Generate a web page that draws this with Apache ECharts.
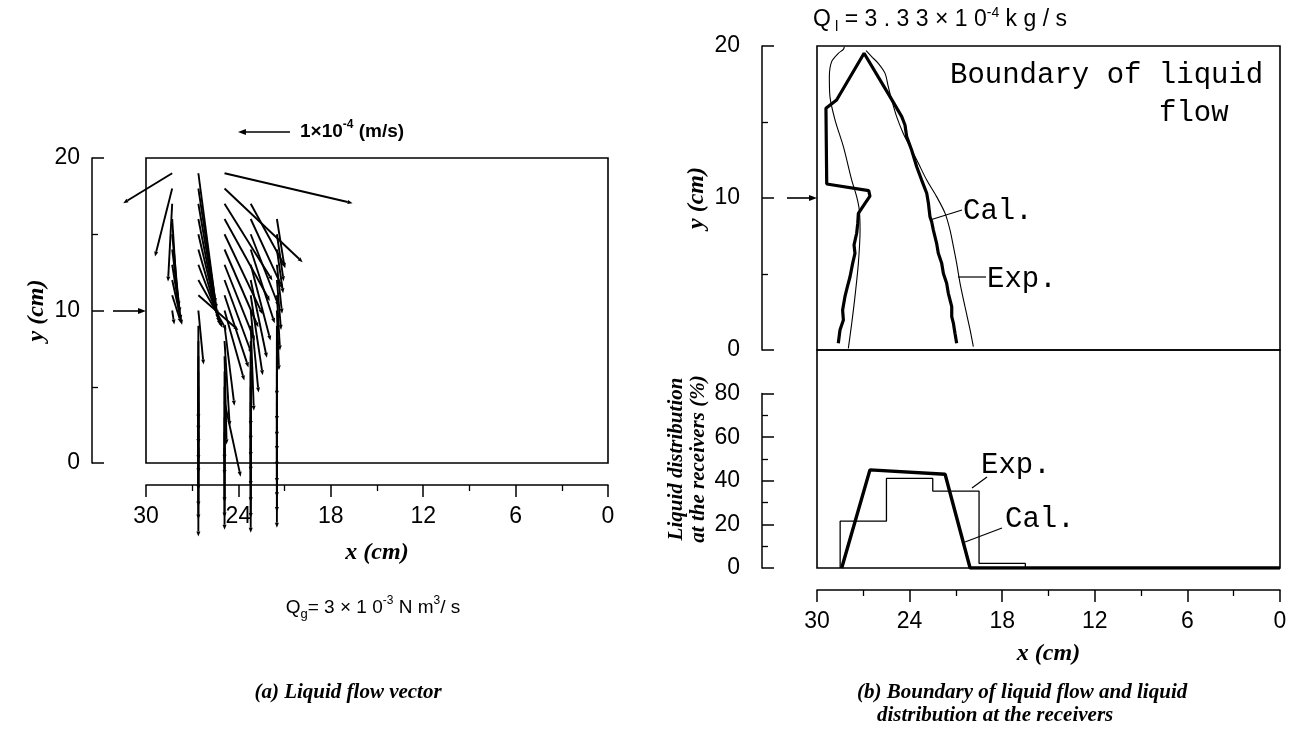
<!DOCTYPE html>
<html>
<head>
<meta charset="utf-8">
<script src="https://cdn.jsdelivr.net/npm/echarts@6/dist/echarts.min.js"></script>
<style>
html,body{margin:0;padding:0;background:#fff;}
#chart{width:1298px;height:731px;}
</style>
</head>
<body>
<div id="chart"></div>
<script>
// ---------------- DATA ----------------
// (a) Liquid flow vectors: grid columns (x, cm) and rows (y, cm)
// velocity components in units of 1e-4 m/s (u along +x of the axis, v along +y)
const col0X = 28.3;
const col0Y = [19,18,17,16,15,14,13,12,11,10];
const col0U = [0.94,0.33,0.08,-0.10,-0.13,-0.15,-0.17,-0.19,-0.17,-0.04];
const col0V = [-0.58,-1.32,-1.51,-1.55,-1.40,-1.22,-1.07,-0.87,-0.54,-0.27];

const col1X = 26.6;
const col1Y = [19,18,17,16,15,14,13,12,11,10,9,8,7,6,5,4,3,2,1];
const col1U = [-0.33,-0.35,-0.37,-0.38,-0.40,-0.42,-0.46,-0.54,-0.77,-0.10,0,0,0,0,0,0,0,0,0];
const col1V = [-2.52,-2.34,-2.17,-1.94,-1.71,-1.47,-1.22,-0.97,-0.68,-1.05,-1.82,-1.74,-1.70,-1.72,-1.68,-1.71,-1.73,-1.69,-1.72];

const col2X = 24.9;
const col2Y = [19,18,17,16,15,14,13,12,11,10,9,8,7,6,5,4,3,2,1];
const col2U = [-2.46,-1.50,-0.92,-0.87,-0.73,-0.65,-0.58,-0.52,-0.46,-0.38,-0.19,-0.10,-0.04,0,0,-0.31,0,0,0];
const col2V = [-0.58,-1.43,-1.49,-1.59,-1.55,-1.51,-1.47,-1.43,-1.40,-1.36,-1.55,-1.65,-1.71,-1.71,-1.71,-1.45,-1.65,-1.65,-1.59];

const col3X = 23.2;
const col3Y = [17,16,15,14,13,12,11,10,9,8,7,6,5,4,3,2,1];
const col3U = [-0.67,-0.62,-0.54,-0.46,-0.38,-0.31,-0.23,-0.15,-0.06,0,0,0,0,0,0,0,0];
const col3V = [-1.24,-1.36,-1.40,-1.43,-1.47,-1.51,-1.55,-1.59,-1.65,-1.65,-1.64,-1.66,-1.65,-1.63,-1.65,-1.66,-1.65];

const col4X = 21.5;
const col4Y = [16,15,14,13,12,11,10,9,8,7,6,5,4,3,2,1];
const col4U = [-0.15,-0.13,-0.12,-0.10,-0.08,-0.06,-0.04,0,0,0,0,0,0,0,0,0];
const col4V = [-0.95,-0.91,-0.85,-0.95,-0.97,-1.07,-1.16,-1.36,-1.55,-1.56,-1.54,-1.55,-1.57,-1.55,-1.54,-1.55];

// (b) Boundary of liquid flow, [x cm, y cm]
const calBoundary = [[28.62,0.44],[28.51,1.32],[28.29,1.97],[28.34,2.63],[28.19,3.51],[28.03,4.17],[27.86,4.82],[27.69,5.70],[27.54,6.36],[27.60,6.91],[27.43,7.68],[27.36,8.33],[27.32,8.99],[26.89,9.65],[26.57,10.13],[26.65,10.48],[29.37,10.92],[29.42,15.90],[28.73,16.45],[26.95,19.52],[25.27,16.67],[24.51,15.35],[24.30,14.80],[24.19,14.04],[23.87,13.16],[23.54,12.06],[23.22,11.18],[22.89,10.31],[22.78,9.65],[22.68,8.77],[22.57,8.44],[22.46,7.89],[22.25,7.02],[22.14,6.36],[21.92,5.70],[21.81,5.04],[21.60,4.39],[21.49,3.73],[21.27,2.85],[21.27,2.19],[21.16,1.75],[21.06,1.10],[20.95,0.44]];
const expBoundaryLeft = [[27.97,0.11],[27.75,1.75],[27.54,3.51],[27.32,5.70],[27.21,7.89],[27.26,9.21],[27.43,10.09],[27.75,11.18],[28.29,13.38],[28.83,15.13],[29.16,16.67],[29.20,17.98],[29.05,18.97],[28.62,19.52],[28.29,19.78],[28.23,19.96]];
const expBoundaryRight = [[26.82,19.69],[26.46,19.30],[26.03,18.86],[25.59,18.20],[25.38,17.32],[25.16,16.45],[24.84,15.35],[24.41,14.25],[23.97,13.38],[23.43,12.28],[22.89,11.18],[22.25,10.09],[21.70,8.99],[21.38,7.89],[21.16,6.80],[20.95,5.70],[20.73,4.39],[20.41,2.85],[20.08,1.32],[19.87,0.22]];

// (b) Liquid distribution at the receivers (%)
const calDistX = [28.40, 26.57, 21.70, 20.08, 0];
const calDistY = [0, 45.0, 43.0, 0, 0];
const receiverEdges = [28.5, 25.5, 22.5, 19.5, 16.5];
const expDist = [21.5, 41.1, 35.3, 2.1];

// tick labels / axis ranges
const xTicks = [30, 24, 18, 12, 6, 0];
const yBoundaryTicks = [0, 10, 20];
const yDistTicks = [0, 20, 40, 60, 80];

// ---------------- BUILD ----------------
const VEC_SCALE = 3.38; // cm of plot per 1e-4 m/s
const vectorData = [];
[[col0X,col0Y,col0U,col0V],[col1X,col1Y,col1U,col1V],[col2X,col2Y,col2U,col2V],[col3X,col3Y,col3U,col3V],[col4X,col4Y,col4U,col4V]]
  .forEach(([cx, ys, us, vs]) => ys.forEach((y, i) => vectorData.push([cx, y, us[i], vs[i]])));

const expStep = [[receiverEdges[0], 0]];
expDist.forEach((v, i) => { expStep.push([receiverEdges[i], v], [receiverEdges[i+1], v]); });
expStep.push([receiverEdges[receiverEdges.length-1], 0]);
const calDist = calDistX.map((x, i) => [x, calDistY[i]]);

function renderVector(params, api) {
  const x = api.value(0), y = api.value(1), u = api.value(2), v = api.value(3);
  const p0 = api.coord([x, y]);
  const p1 = api.coord([x + u * VEC_SCALE, y + v * VEC_SCALE]);
  const dx = p1[0]-p0[0], dy = p1[1]-p0[1];
  const len = Math.hypot(dx, dy) || 1;
  const ux = dx/len, uy = dy/len;
  const hl = Math.min(5, len*0.4), hw = 2;
  const bx = p1[0]-ux*hl, by = p1[1]-uy*hl;
  return {type:'group', children:[
    {type:'line', shape:{x1:p0[0], y1:p0[1], x2:bx, y2:by}, style:{stroke:'#000', lineWidth:1.9}},
    {type:'polygon', shape:{points:[[p1[0],p1[1]],[bx-uy*hw, by+ux*hw],[bx+uy*hw, by-ux*hw]]}, style:{fill:'#000'}}
  ]};
}

const LABEL_FONT = 'Liberation Sans';
const TITLE_FONT = 'Liberation Serif';
const axisLineStyle = {color:'#000', width:1.5};
function xAxisVisible(gridIndex, nameGap) {
  return {
    gridIndex, type:'value', min:0, max:30, interval:6, inverse:true, offset:22,
    axisLine:{show:true, onZero:false, lineStyle:axisLineStyle},
    axisTick:{show:true, length:12, lineStyle:axisLineStyle},
    minorTick:{show:true, splitNumber:2, length:6, lineStyle:{color:'#000', width:1.3}},
    axisLabel:{fontSize:23, fontFamily:LABEL_FONT, color:'#000', margin:20,
      formatter: v => xTicks.includes(v) ? String(v) : ''},
    splitLine:{show:false},
    name:'x (cm)', nameLocation:'middle', nameGap,
    nameTextStyle:{fontFamily:TITLE_FONT, fontWeight:'bold', fontStyle:'italic', fontSize:24, color:'#000'}
  };
}
function xAxisHidden(gridIndex) {
  return {gridIndex, type:'value', min:0, max:30, inverse:true, show:false};
}
function yAxisVisible(gridIndex, max, interval, ticks, labelMargin, name, nameGap) {
  return {
    gridIndex, type:'value', min:0, max, interval, offset:55,
    axisLine:{show:true, onZero:false, lineStyle:axisLineStyle},
    axisTick:{show:true, inside:true, length:12, lineStyle:axisLineStyle},
    minorTick:{show:true, splitNumber:2, length:6, lineStyle:{color:'#000', width:1.3}},
    axisLabel:{fontSize:23, fontFamily:LABEL_FONT, color:'#000', margin:labelMargin,
      formatter: v => ticks.includes(v) ? String(v) : ''},
    splitLine:{show:false},
    name, nameLocation:'middle', nameGap,
    nameTextStyle:{fontFamily:TITLE_FONT, fontWeight:'bold', fontStyle:'italic', fontSize:24, color:'#000', lineHeight:22}
  };
}
const gridBox = {show:true, borderColor:'#000', borderWidth:1.6, backgroundColor:'transparent'};

const chart = echarts.init(document.getElementById('chart'), null, {renderer:'canvas'});
const option = {
  backgroundColor:'#fff',
  animation:false,
  grid:[
    Object.assign({left:146, top:158, width:462, height:305}, gridBox),
    Object.assign({left:817, top:46, width:463, height:304}, gridBox),
    Object.assign({left:817, top:350, width:463, height:218}, gridBox),
    {left:817, top:393.6, width:463, height:174.4, show:false}
  ],
  xAxis:[
    xAxisVisible(0, 56),
    xAxisHidden(1),
    xAxisVisible(2, 52),
    xAxisHidden(3)
  ],
  yAxis:[
    Object.assign(yAxisVisible(0, 20, 10, yBoundaryTicks, 12, 'y (cm)', 44), {offset:54}),
    yAxisVisible(1, 20, 10, yBoundaryTicks, 22, 'y (cm)', 54),
    {gridIndex:2, type:'value', min:0, max:100, offset:55,
      axisLine:{show:false}, axisTick:{show:false}, axisLabel:{show:false}, splitLine:{show:false},
      name:'Liquid distribution\nat the receivers (%)', nameLocation:'middle', nameGap:52,
      nameTextStyle:{fontFamily:TITLE_FONT, fontWeight:'bold', fontStyle:'italic', fontSize:21, color:'#000', lineHeight:22}},
    Object.assign(yAxisVisible(3, 80, 20, yDistTicks, 22, '', 0), {name:''})
  ],
  series:[
    {type:'custom', name:'Liquid flow vector', xAxisIndex:0, yAxisIndex:0, clip:false,
      renderItem:renderVector, data:vectorData, encode:{x:0, y:1}, silent:true},
    {type:'line', name:'Cal.', xAxisIndex:1, yAxisIndex:1, data:calBoundary, symbol:'none',
      lineStyle:{color:'#000', width:3.2}, silent:true},
    {type:'line', name:'Exp. left', xAxisIndex:1, yAxisIndex:1, data:expBoundaryLeft, symbol:'none', smooth:0.3,
      lineStyle:{color:'#000', width:1.1}, silent:true},
    {type:'line', name:'Exp. right', xAxisIndex:1, yAxisIndex:1, data:expBoundaryRight, symbol:'none', smooth:0.3,
      lineStyle:{color:'#000', width:1.1}, silent:true},
    {type:'line', name:'Cal. dist', xAxisIndex:2, yAxisIndex:2, data:calDist, symbol:'none',
      lineStyle:{color:'#000', width:3.4}, silent:true},
    {type:'line', name:'Exp. dist', xAxisIndex:2, yAxisIndex:2, data:expStep, symbol:'none',
      lineStyle:{color:'#000', width:1.3}, silent:true}
  ]
};
chart.setOption(option);

// ---------------- ANNOTATIONS ----------------
const k0 = chart.convertToPixel({xAxisIndex:0, yAxisIndex:0}, [0, 0]);
const k1 = chart.convertToPixel({xAxisIndex:0, yAxisIndex:0}, [VEC_SCALE, 0]);
const keyLen = Math.abs(k1[0] - k0[0]);
const keyRight = 290, keyY = 132;

function arrowHead(x, y, dir) { // dir: +1 points right, -1 points left
  return {type:'polygon', shape:{points:[[x,y],[x-dir*8,y-3],[x-dir*8,y+3]]}, style:{fill:'#000'}};
}
function seg(x1,y1,x2,y2,w){ return {type:'line', shape:{x1,y1,x2,y2}, style:{stroke:'#000', lineWidth:w||1.5}}; }
function txt(x, y, text, font, extra) {
  return {type:'text', x, y, style:Object.assign({text, font, fill:'#000', align:'left', verticalAlign:'middle'}, extra||{})};
}
const monoFont = '29px "Liberation Mono"';
const capFont = 'italic bold 21px "Liberation Serif"';
const supRich = {
  a:{fontSize:19, fontFamily:LABEL_FONT, lineHeight:26},
  p:{fontSize:12, fontFamily:LABEL_FONT, lineHeight:26, verticalAlign:'top'},
  s:{fontSize:13, fontFamily:LABEL_FONT, lineHeight:22, verticalAlign:'bottom'}
};
const supRichBig = {
  a:{fontSize:23, fontFamily:LABEL_FONT, lineHeight:28},
  p:{fontSize:14, fontFamily:LABEL_FONT, lineHeight:28, verticalAlign:'top'},
  s:{fontSize:15, fontFamily:LABEL_FONT, lineHeight:24, verticalAlign:'bottom'}
};

chart.setOption({graphic:[
  // key vector
  seg(keyRight - keyLen + 7, keyY, keyRight, keyY, 1.6),
  arrowHead(keyRight - keyLen, keyY, -1),
  {type:'text', x:300, y:keyY, style:{text:'{a|1×10}{p|-4}{a| (m/s)}', fill:'#000', align:'left', verticalAlign:'middle',
    rich:{a:{fontSize:19, fontFamily:LABEL_FONT, fontWeight:'bold', lineHeight:26}, p:{fontSize:12, fontFamily:LABEL_FONT, fontWeight:'bold', lineHeight:26, verticalAlign:'top'}}}},
  // y=10 arrows
  seg(113, 311, 140, 311, 1.6), arrowHead(146, 311, 1),
  seg(787, 198, 811, 198, 1.6), arrowHead(817, 198, 1),
  // Qg label
  {type:'text', x:373, y:608, style:{text:'{a|Q}{s|g}{a|= 3 × 1 0}{p|-3}{a| N m}{p|3}{a|/ s}', fill:'#000', align:'center', verticalAlign:'middle', rich:supRich}},
  // Ql label
  {type:'text', x:813, y:20, style:{text:'{a|Q}{s| l}{a| = 3 . 3 3 × 1 0}{p|-4}{a| k g / s}', fill:'#000', align:'left', verticalAlign:'middle', rich:supRichBig}},
  // Boundary label
  txt(950, 75, 'Boundary of liquid', monoFont),
  txt(1159, 113, 'flow', monoFont),
  // Cal./Exp. labels top
  seg(930, 220, 962, 210, 1.2), txt(963, 211, 'Cal.', monoFont),
  seg(958, 277, 986, 277, 1.2), txt(987, 279, 'Exp.', monoFont),
  // Cal./Exp. labels bottom
  seg(972, 488, 987, 477, 1.2), txt(981, 465, 'Exp.', monoFont),
  seg(965, 542, 1002, 528, 1.2), txt(1005, 519, 'Cal.', monoFont),
  // captions
  txt(348, 693, '(a) Liquid flow vector', capFont, {align:'center'}),
  txt(857, 693, '(b) Boundary of liquid flow and liquid', capFont),
  txt(877, 716, 'distribution at the receivers', capFont)
]});
</script>
</body>
</html>
